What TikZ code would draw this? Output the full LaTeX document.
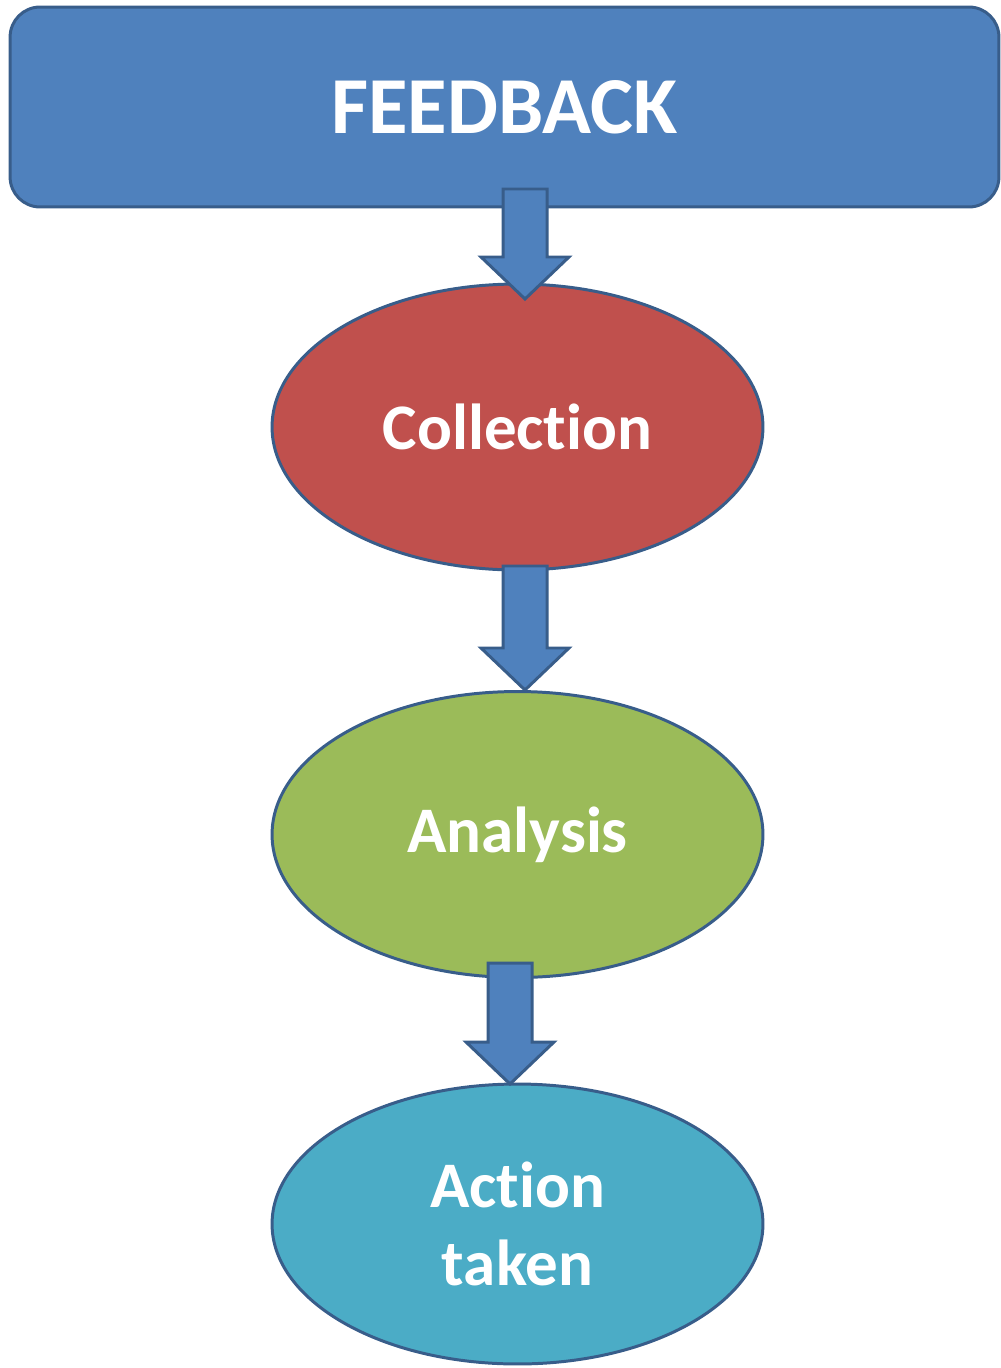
\documentclass[tikz,border=0pt]{standalone}
\usepackage{fontspec}
\setmainfont[Ligatures=NoCommon]{Carlito}
\usetikzlibrary{shapes.geometric,calc}
\definecolor{fbblue}{HTML}{4F81BD}
\definecolor{fbborder}{HTML}{385D8A}
\definecolor{fbred}{HTML}{C0504D}
\definecolor{fbgreen}{HTML}{9BBB59}
\definecolor{fbcyan}{HTML}{4BACC6}
\begin{document}
\begin{tikzpicture}[x=0.02cm,y=-0.02cm,
  headbox/.style={draw=fbborder,line width=1.7pt,fill=fbblue,rounded corners=0.6cm,
    minimum width=19.78cm,minimum height=4cm,text=white,
    font=\fontsize{46}{55}\selectfont\bfseries},
  oval/.style={ellipse,draw=fbborder,line width=1.7pt,minimum width=9.82cm,
    minimum height=5.72cm,text=white,align=center,
    font=\fontsize{37}{44}\selectfont\bfseries},
  blockarrow/.style={draw=fbborder,fill=fbblue,line width=1.7pt,line join=miter,
    to path={($(\tikztostart)+(-22,0)$) -- ($(\tikztostart)+(22,0)$)
      -- ($(\tikztotarget)+(22,-42)$) -- ($(\tikztotarget)+(44,-42)$)
      -- (\tikztotarget) -- ($(\tikztotarget)+(-44,-42)$)
      -- ($(\tikztotarget)+(-22,-42)$) -- cycle}}]
\useasboundingbox (0,0) rectangle (1000,1368);
\node[headbox] (fb) at (504.5,107) {FEEDBACK};
\node[oval,fill=fbred] (col) at (517.5,427) {Collection};
\node[oval,fill=fbgreen] (ana) at (517.5,834.5) {Analysis};
\node[oval,fill=fbcyan,minimum height=5.6cm] (act) at (517.5,1224) {Action\\taken};
\coordinate (a1s) at (525,189);
\coordinate (a1e) at (525,299);
\coordinate (a2s) at (525,566);
\coordinate (a2e) at (525,690);
\coordinate (a3s) at (510,963);
\coordinate (a3e) at (510,1084);
\path[blockarrow] (a1s) to (a1e);
\path[blockarrow] (a2s) to (a2e);
\path[blockarrow] (a3s) to (a3e);
\end{tikzpicture}
\end{document}
